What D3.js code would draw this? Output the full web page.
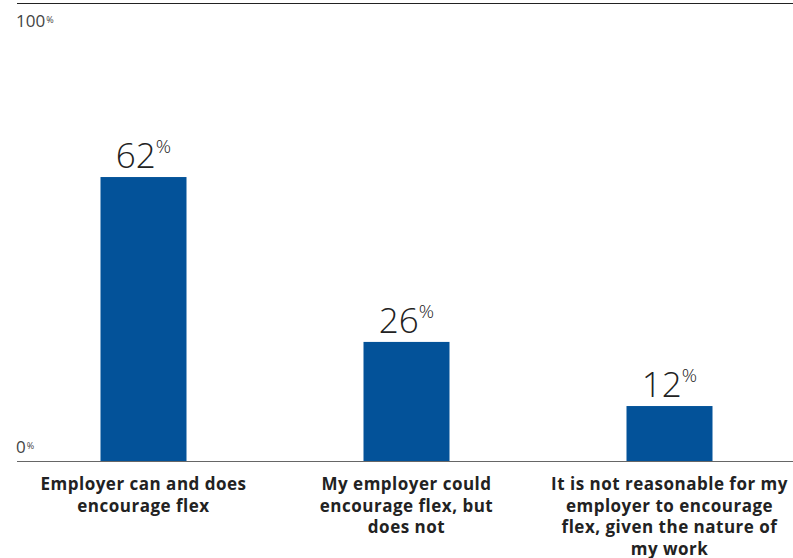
<!DOCTYPE html>
<html>
<head>
<meta charset="utf-8">
<script src="https://cdn.jsdelivr.net/npm/d3@7"></script>
<style>
  body { margin: 0; background: #fff; }
  svg { display: block; font-family: "Open Sans", sans-serif; }
</style>
</head>
<body>
<svg id="chart" width="793" height="558"></svg>
<script>
// data
const categories = [
  ["Employer can and does", "encourage flex"],
  ["My employer could", "encourage flex, but", "does not"],
  ["It is not reasonable for my", "employer to encourage", "flex, given the nature of", "my work"]
];
const values = [62, 26, 12];
const yTicks = [0, 100];

const width = 793, height = 558;
const svg = d3.select("#chart");

const x = d3
  .scaleBand()
  .domain(d3.range(values.length))
  .range([12, 801])
  .paddingInner(0.673)
  .paddingOuter(0.3365);

const y = d3.scaleLinear().domain([0, 100]).range([461, 3]);

// top frame line
svg
  .append("line")
  .attr("x1", 17)
  .attr("x2", width)
  .attr("y1", y(100) + 0.5)
  .attr("y2", y(100) + 0.5)
  .attr("stroke", "#222")
  .attr("stroke-width", 1.2);

// tick labels
var tick = svg
  .selectAll(".tick")
  .data(yTicks)
  .enter()
  .append("text")
  .attr("class", "tick")
  .attr("x", 16)
  .attr("y", function (d) {
    return d == 100 ? y(d) + 24 : y(d) - 8;
  })
  .attr("fill", "#444")
  .style("font-size", "17px");
tick.append("tspan").text(function (d) { return d; });
tick
  .append("tspan")
  .attr("dx", 1)
  .attr("dy", "-0.45em")
  .style("font-size", "9px")
  .text("%");

// bars
svg
  .selectAll(".bar")
  .data(values)
  .enter()
  .append("rect")
  .attr("class", "bar")
  .attr("x", function (d, i) { return x(i); })
  .attr("y", function (d) { return y(d); })
  .attr("width", x.bandwidth())
  .attr("height", function (d) { return y(0) - y(d); })
  .attr("fill", "#035299");

// baseline
svg
  .append("line")
  .attr("x1", 17)
  .attr("x2", width)
  .attr("y1", y(0) + 0.5)
  .attr("y2", y(0) + 0.5)
  .attr("stroke", "#666")
  .attr("stroke-width", 1.2);

// value labels
var vlabel = svg
  .selectAll(".vlabel")
  .data(values)
  .enter()
  .append("text")
  .attr("class", "vlabel")
  .attr("x", function (d, i) { return x(i) + x.bandwidth() / 2; })
  .attr("y", function (d) { return y(d) - 9; })
  .attr("text-anchor", "middle")
  .attr("fill", "#222")
  .style("font-weight", 300);
vlabel
  .append("tspan")
  .style("font-size", "35px")
  .text(function (d) { return d; });
vlabel
  .append("tspan")
  .attr("dy", "-0.8em")
  .style("font-size", "19px")
  .text("%");

// category labels
var clabel = svg
  .selectAll(".clabel")
  .data(categories)
  .enter()
  .append("text")
  .attr("class", "clabel")
  .attr("text-anchor", "middle")
  .attr("fill", "#222")
  .style("font-size", "17px")
  .style("letter-spacing", "0.5px")
  .style("font-weight", 700);
clabel
  .selectAll("tspan")
  .data(function (d, i) {
    return d.map(function (line) { return { line: line, i: i }; });
  })
  .enter()
  .append("tspan")
  .attr("x", function (d) { return x(d.i) + x.bandwidth() / 2; })
  .attr("y", function (d, j) { return 490 + j * 21.5; })
  .text(function (d) { return d.line; });
</script>
</body>
</html>
